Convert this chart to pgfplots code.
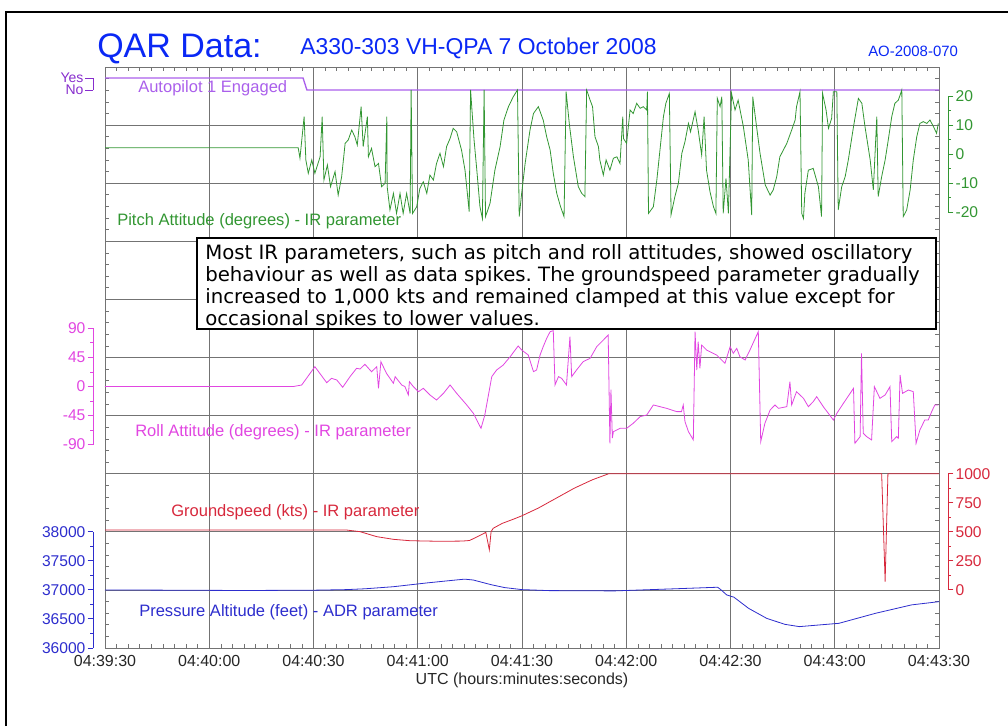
\documentclass[border=0pt]{standalone}
\usepackage{pgfplots}
\pgfplotsset{compat=1.18}
\usepackage{fontspec}
\setmainfont{Liberation Sans}
\newfontfamily\boxfont{DejaVu Sans}
\frenchspacing

\definecolor{apcol}{RGB}{170,95,235}
\definecolor{apdark}{RGB}{135,45,205}
\definecolor{pitchcol}{RGB}{50,150,50}
\definecolor{rollcol}{RGB}{225,70,225}
\definecolor{gscol}{RGB}{215,40,60}
\definecolor{altcol}{RGB}{45,45,205}
\definecolor{titlecol}{RGB}{10,40,245}
\definecolor{gridcol}{RGB}{115,115,115}

% one strip of the stacked chart: same time range, own y range
\pgfplotsset{
  panel/.style={
    anchor=south west, scale only axis,
    width=625.5pt, height=87.15pt,
    xmin=0, xmax=240, clip=false,
    axis x line=none, separate axis lines,
    scaled y ticks=false,
    tick align=outside, major tick length=4pt, minor tick length=2.2pt,
    minor y tick num=1,
    yticklabel style={font=\fontsize{11.7}{12}\selectfont, text=#1, inner sep=1.5pt},
    y axis line style={draw=#1, line width=0.7pt},
    ytick style={draw=#1, line width=0.7pt},
  },
  leftpanel/.style={axis y line*=left, axis y line shift=9pt},
  rightpanel/.style={axis y line*=right, axis y line shift=6.75pt},
}

\begin{document}
\begin{tikzpicture}
\useasboundingbox (0,0) rectangle (756pt,-544.5pt);

% frame, grid and time axis
\begin{axis}[
  at={(78.75pt,-486pt)}, anchor=south west, scale only axis,
  width=625.5pt, height=435.75pt,
  xmin=0, xmax=240, ymin=0, ymax=10,
  xtick={0,30,...,240},
  xticklabels={04:39:30,04:40:00,04:40:30,04:41:00,04:41:30,04:42:00,04:42:30,04:43:00,04:43:30},
  ytick={0,1,...,10}, yticklabels={},
  minor x tick num=8, minor y tick num=4,
  tick align=inside, major tick length=0pt, minor tick length=3pt,
  tick style={gridcol, line width=0.5pt},
  grid=major, major grid style={gridcol, line width=0.6pt},
  axis line style={gridcol, line width=0.6pt},
  xticklabel style={font=\fontsize{12}{13}\selectfont, text=black!85, yshift=-2pt},
  xlabel={UTC (hours:minutes:seconds)},
  xlabel style={font=\fontsize{12}{13}\selectfont, text=black!85, yshift=2pt},
]
\end{axis}

% Autopilot 1 engaged
\begin{axis}[panel=apdark, leftpanel, at={(78.75pt,-67.5pt)}, height=9pt,
  ymin=0, ymax=1, ytick={0,1}, yticklabels={No,Yes}, minor y tick num=0,
  major tick length=6pt,
  yticklabel style={font=\fontsize{10.5}{11}\selectfont, inner sep=1pt}]
\addplot[apcol, line width=1pt] coordinates {(0,1) (57,1) (58.1,0) (240,0)};
\end{axis}

% Pitch attitude
\begin{axis}[panel=pitchcol, rightpanel, at={(78.75pt,-159.2pt)},
  ymin=-20, ymax=20, ytick={-20,-10,0,10,20}, yticklabels={-20,-10,0,10,20}]
\addplot[pitchcol, line width=0.6pt] coordinates {
(0,2.2) (55.6,2.2) (56.1,-1.4) (57.3,12.9) (57.8,-2.0) (58.5,-6.6) (59.5,-2.0)
(60.4,-6.6) (61.9,-0.9) (62.5,12.9) (63.0,-8.9) (64.0,-3.7) (64.9,-11.2) (66.2,-6.0)
(67.1,-14.1) (68.1,-7.75) (69.1,3.7) (70.0,4.9) (71.0,8.3) (71.9,6.0) (72.6,3.15)
(73.7,16.35) (74.3,2.6) (75.5,12.9) (75.8,-0.9) (76.7,2.0) (77.7,-4.3) (78.7,-3.2)
(79.6,-11.2) (80.6,-10.05) (81.1,12.9) (81.2,-11.2) (82.0,-19.2) (83.0,-13.5)
(83.9,-20.4) (84.9,-13.5) (85.8,-20.4) (86.8,-13.5) (87.8,-20.4) (88.1,22.1)
(88.5,-20.4) (89.7,-18.1) (90.6,-11.8) (91.6,-9.5) (92.6,-13.5) (93.5,-7.2)
(94.5,-8.9) (95.4,-3.2) (96.4,0.3) (97.4,-4.3) (98.3,2.6) (99.3,5.4) (100.2,8.9)
(101.2,7.7) (102.6,1.4) (103.6,-5.5) (104.8,-19.8) (105.2,22.1) (106.2,4.9)
(107.0,-5.5) (107.9,-18.1) (108.6,-22.1) (109.1,22.1) (109.5,-21.5) (110.8,-16.9)
(112.2,-5.5) (113.7,2.6) (114.8,11.75) (116.1,16.35) (117.5,19.8) (118.7,22.1)
(119.2,-21.5) (119.9,-13.5) (120.9,-3.2) (122.3,8.3) (123.3,14.0) (124.7,16.35)
(126.1,11.75) (127.1,6.0) (128.1,1.4) (129.0,-6.6) (130.0,-13.5) (131.1,-18.1)
(132.1,-21.5) (132.7,21.5) (133.6,10.6) (134.8,-0.9) (136.2,-11.2) (137.2,-13.5)
(138.1,-14.6) (138.6,22.1) (139.6,18.6) (140.3,16.35) (141.0,6.0) (142.0,2.6)
(142.4,-2.0) (143.4,-7.2) (144.2,-2.0) (145.3,-5.5) (146.3,-1.4) (147.3,-0.9)
(148.2,-3.2) (149.0,12.9) (149.2,5.4) (150.1,3.7) (151.1,15.2) (152.0,14.0)
(153.0,17.5) (154.0,15.8) (154.9,16.35) (155.9,15.2) (156.1,21.5) (156.4,-20.4)
(157.8,-18.1) (158.8,-8.9) (159.7,1.4) (160.7,12.9) (161.4,17.5) (162.4,20.9)
(162.9,-20.8) (164.0,-14.6) (165.0,-10.05) (166.0,0.3) (166.9,4.3) (167.9,10.6)
(168.5,7.7) (169.8,14.6) (170.7,8.3) (171.7,-0.3) (172.4,12.9) (173.1,-5.5)
(174.1,-12.9) (175.1,-18.1) (175.8,-20.4) (176.2,19.2) (177.0,16.35) (177.5,19.8)
(177.9,-20.4) (178.7,-8.3) (179.4,-20.4) (180.3,20.9) (181.3,15.2) (182.2,18.6)
(183.7,9.5) (185.1,-2.0) (186.1,-21.0) (186.4,19.8) (187.5,9.5) (188.5,0.3)
(190.0,-10.6) (191.4,-14.1) (192.3,-12.3) (193.3,-7.75) (194.2,-0.9) (196.2,3.7)
(197.6,8.3) (198.6,11.75) (199.0,16.35) (200.0,21.5) (200.5,-20.4) (201.0,-22.1)
(201.4,-13.5) (202.4,-5.5) (203.8,-4.9) (205.3,-11.2) (206.2,-21.5) (206.5,20.9)
(207.5,15.2) (208.2,8.9) (209.1,12.3) (209.6,21.5) (210.6,21.5) (211.0,-19.2)
(212.0,-11.2) (213.0,-7.75) (213.9,-2.0) (215.4,9.5) (216.8,19.2) (217.8,17.5)
(218.7,9.5) (220.2,-2.0) (221.1,-12.3) (222.1,12.9) (222.5,-14.6) (223.5,-7.75)
(224.5,-2.0) (225.4,4.9) (226.4,12.9) (227.3,17.5) (228.3,18.6) (229.3,22.1)
(229.7,-21.5) (230.7,-19.2) (231.7,-12.3) (232.6,-2.0) (233.6,6.0) (234.5,10.6)
(235.5,11.2) (236.5,10.6) (237.4,11.75) (238.4,9.5) (239.3,7.2) (239.8,10.6)
};
\end{axis}

% Roll attitude
\begin{axis}[panel=rollcol, leftpanel, at={(78.75pt,-333.45pt)},
  ymin=-90, ymax=90, ytick={-90,-45,0,45,90}, yticklabels={-90,-45,0,45,90}]
\addplot[rollcol, line width=0.6pt] coordinates {
(0,0) (54.2,0) (56.6,2.3) (60.4,30.7) (63.8,5.9) (65.2,12.7) (66.7,10.1) (68.4,-1.2)
(70.5,15.2) (72.4,28.2) (73.4,27.1) (74.8,34.4) (76.7,22.9) (78.2,30.7) (78.7,-2.8)
(79.4,38.4) (81.0,20.4) (83.0,5.0) (83.5,15.2) (85.4,2.3) (86.3,0) (87.3,-13.1)
(87.6,7.5) (88.7,0.0) (90.2,-8.0) (91.6,-2.8) (93.5,-13.1) (95.4,-20.9) (97.4,-10.6)
(99.3,2.4) (101.2,-10.6) (104.1,-28.6) (106.0,-41.5) (108.2,-64.8) (109.3,-44.1)
(111.3,15.3) (112.7,25.6) (114.6,33.3) (116.6,46.2) (118.9,62.8) (119.9,56.6)
(121.8,48.8) (123.3,23.0) (124.2,25.6) (125.2,48.8) (126.1,61.7) (127.1,74.6)
(128.1,85.0) (129.0,86.5) (129.5,2.4) (130.5,15.3) (131.4,12.7) (132.8,2.4)
(133.8,77.2) (134.3,15.3) (135.7,25.6) (137.6,38.5) (139.6,43.7) (141.5,61.7)
(143.4,72.0) (144.8,79.8) (145.3,-88.0) (145.6,-5.0) (146.0,-80.0) (146.3,-69.9)
(148.2,-64.8) (150.1,-64.8) (152.0,-57.0) (154.0,-46.7) (155.9,-44.1) (157.8,-28.6)
(159.7,-31.2) (161.6,-33.8) (164.5,-38.9) (165.9,-38.9) (166.4,-28.6) (166.9,-54.4)
(167.9,-69.9) (169.3,-82.8) (169.8,85.0) (170.3,25.6) (170.7,69.5) (171.2,28.2)
(171.7,64.3) (173.1,56.6) (176.0,48.8) (178.4,35.9) (179.9,61.7) (180.8,51.4)
(181.8,59.1) (182.7,46.2) (184.2,41.1) (185.6,56.6) (188.0,85.0) (188.7,-85.4)
(189.9,-57.0) (191.4,-36.4) (192.8,-28.6) (193.8,-33.8) (196.2,-31.2) (197.1,7.5)
(197.6,-28.6) (199.0,-8.0) (201.0,-18.3) (202.4,-31.2) (203.8,-23.5) (204.8,-15.7)
(206.7,-31.2) (209.6,-51.9) (210.6,-41.5) (212.5,-26.0) (215.4,-2.8) (215.8,-88.0)
(217.3,-77.7) (217.7,51.4) (218.2,-72.5) (219.2,-77.7) (220.6,-82.8) (221.4,-0.2)
(223.0,-18.3) (224.5,-13.1) (225.9,-0.2) (226.4,-85.4) (227.8,-77.7) (228.3,-80.2)
(228.8,17.8) (229.5,-10.6) (231.2,-5.4) (232.6,-8.0) (233.4,-88.0) (234.5,-67.4)
(235.9,-51.9) (236.9,-51.9) (237.9,-38.9) (238.8,-28.6) (239.8,-28.6)
};
\end{axis}

% Groundspeed
\begin{axis}[panel=gscol, rightpanel, at={(78.75pt,-442.4pt)},
  ymin=0, ymax=1000, ytick={0,250,500,750,1000}, yticklabels={0,250,500,750,1000}]
\addplot[gscol, line width=0.6pt] coordinates {
(0,515) (69.5,515) (73.4,501) (78.2,458) (83.0,435) (87.8,423) (96.5,418)
(102.8,420) (104.9,425) (107.0,455) (109.6,495) (110.6,345) (111.1,500) (111.7,530)
(114.3,572) (117.4,607) (120,638) (124.7,704) (129.9,790) (135.1,876) (140.3,948)
(145.0,1000) (223.5,1000) (224.5,72) (225.3,1000) (240,1000)
};
\end{axis}

% Pressure altitude
\begin{axis}[panel=altcol, leftpanel, at={(78.75pt,-486pt)},
  ymin=36000, ymax=38000, ytick={36000,36500,37000,37500,38000},
  yticklabels={36000,36500,37000,37500,38000}]
\addplot[altcol, line width=0.6pt] coordinates {
(0,37000) (20,36995) (40,36990) (60,36995) (69.5,37005) (75,37020) (83,37055)
(92.6,37120) (100,37165) (103.5,37185) (106,37170) (111.1,37090) (115,37040)
(120,37005) (127.8,36988) (146.6,36983) (164.3,37020) (176.3,37046) (177.3,37000)
(178.9,36914) (181.0,36874) (185.2,36683) (190.4,36511) (195.6,36408) (199.8,36368)
(211.2,36425) (221.7,36597) (232.1,36742) (240,36798)
};
\end{axis}

% titles, strip labels and the note, in image pixels
\begin{scope}[x=0.75pt, y=-0.75pt]
\draw[line width=1.8pt] (6,726) -- (6,12) -- (1008,12);
\node[anchor=base west, inner sep=0, text=titlecol, font=\fontsize{25.5}{26}\selectfont] at (97,57) {QAR Data:};
\node[anchor=base west, inner sep=0, text=titlecol, font=\fontsize{17.2}{18}\selectfont] at (300,54.5) {A330-303 VH-QPA 7 October 2008};
\node[anchor=base west, inner sep=0, text=titlecol, font=\fontsize{11.2}{12}\selectfont] at (868,56) {AO-2008-070};

\node[anchor=west, inner sep=0, text=apcol, font=\fontsize{12.4}{13}\selectfont] at (138,88) {Autopilot 1 Engaged};
\node[anchor=west, inner sep=0, text=pitchcol, font=\fontsize{12.4}{13}\selectfont] at (117,221) {Pitch Attitude (degrees) - IR parameter};
\node[anchor=west, inner sep=0, text=rollcol, font=\fontsize{12.4}{13}\selectfont] at (135,432) {Roll Attitude (degrees) - IR parameter};
\node[anchor=west, inner sep=0, text=gscol, font=\fontsize{12.4}{13}\selectfont] at (171,512) {Groundspeed (kts) - IR parameter};
\node[anchor=west, inner sep=0, text=altcol, font=\fontsize{12.4}{13}\selectfont] at (139,612) {Pressure Altitude (feet) - ADR parameter};

\draw[line width=2.2pt, fill=white] (197,238) rectangle (936,329);
\node[anchor=north west, inner sep=0, align=left, font=\boxfont\fontsize{14.8}{16.5}\selectfont] at (205,244)
  {Most IR parameters, such as pitch and roll attitudes, showed oscillatory\\
   behaviour as well as data spikes. The groundspeed parameter gradually\\
   increased to 1,000 kts and remained clamped at this value except for\\
   occasional spikes to lower values.};
\end{scope}
\end{tikzpicture}
\end{document}
